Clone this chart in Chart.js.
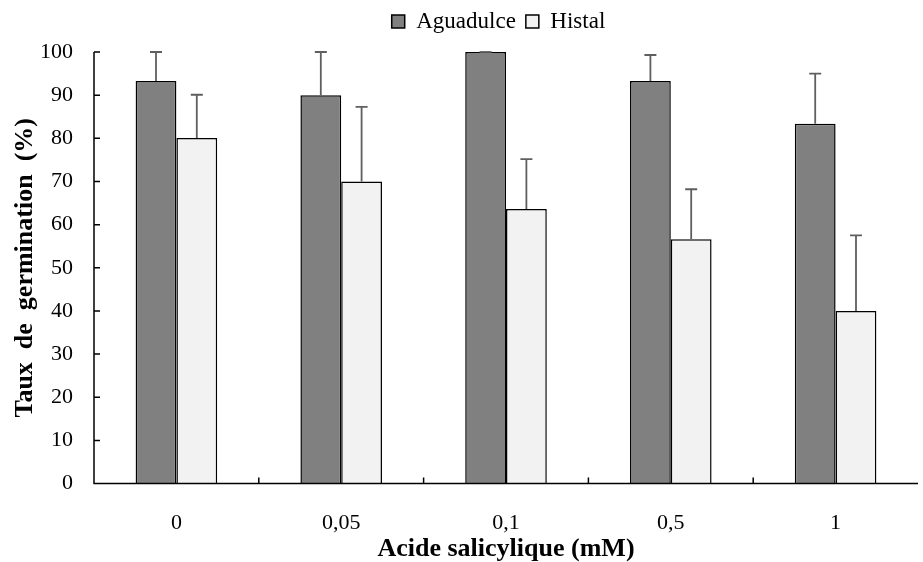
<!DOCTYPE html>
<html>
<head>
<meta charset="utf-8">
<script src="https://cdn.jsdelivr.net/npm/chart.js@4.4.0/dist/chart.umd.min.js"></script>
<style>
  html, body { margin: 0; padding: 0; background: #fff; }
  #wrap { width: 923px; height: 562px; }
</style>
</head>
<body>
<div id="wrap"><canvas id="myChart" width="923" height="562"></canvas></div>
<script>
// categories and values
var doses = ['0', '0,05', '0,1', '0,5', '1'];
var aguadulce = [93.3, 90.0, 100.0, 93.3, 83.4];
var histal = [80.1, 70.0, 63.6, 56.6, 40.0];
// upper error bars (standard deviation)
var aguadulceErr = [6.7, 10.0, 0, 6.0, 11.6];
var histalErr = [10.0, 17.3, 11.6, 11.6, 17.5];
var yTicks = [0, 10, 20, 30, 40, 50, 60, 70, 80, 90, 100];

var serif = '"Liberation Serif", "Times New Roman", serif';

// error bars + inside tick marks
var extras = {
  id: 'extras',
  afterDatasetsDraw: function (chart) {
    var ctx = chart.ctx;
    var y = chart.scales.y;
    var errs = [aguadulceErr, histalErr];
    ctx.save();
    ctx.strokeStyle = '#5f5f5f';
    ctx.lineWidth = 1.8;
    for (var d = 0; d < 2; d++) {
      var meta = chart.getDatasetMeta(d);
      meta.data.forEach(function (bar, i) {
        var v = chart.data.datasets[d].data[i];
        var top = y.getPixelForValue(v + errs[d][i]);
        var base = y.getPixelForValue(v);
        ctx.beginPath();
        ctx.moveTo(bar.x, base);
        ctx.lineTo(bar.x, top);
        ctx.moveTo(bar.x - 6, top);
        ctx.lineTo(bar.x + 6, top);
        ctx.stroke();
      });
    }
    // axes
    var area = chart.chartArea;
    ctx.strokeStyle = '#000';
    ctx.lineWidth = 1.5;
    ctx.beginPath();
    ctx.moveTo(area.left, area.top);
    ctx.lineTo(area.left, area.bottom);
    ctx.lineTo(area.right, area.bottom);
    yTicks.forEach(function (t) {
      var py = y.getPixelForValue(t);
      ctx.moveTo(area.left, py);
      ctx.lineTo(area.left + 6, py);
    });
    var step = (area.right - area.left) / doses.length;
    for (var k = 1; k < doses.length; k++) {
      var px = area.left + step * k;
      ctx.moveTo(px, area.bottom);
      ctx.lineTo(px, area.bottom - 6);
    }
    ctx.stroke();
    ctx.restore();
  }
};

// push the plot down below the legend, and centre the legend over the plot
var legendGap = {
  id: 'legendGap',
  beforeInit: function (chart) {
    var fit = chart.legend.fit;
    chart.legend.fit = function () {
      fit.bind(chart.legend)();
      this.height += 9;
    };
  },
  afterLayout: function (chart) {
    chart.legend.left = 79;
  }
};

var ctx = document.getElementById('myChart').getContext('2d');
var myChart = new Chart(ctx, {
  type: 'bar',
  data: {
    labels: doses,
    datasets: [
      {
        label: 'Aguadulce',
        data: aguadulce,
        backgroundColor: '#808080',
        borderColor: '#000',
        borderWidth: 1.5,
        categoryPercentage: 0.495,
        barPercentage: 1.0
      },
      {
        label: 'Histal',
        data: histal,
        backgroundColor: '#f2f2f2',
        borderColor: '#000',
        borderWidth: 1.5,
        categoryPercentage: 0.495,
        barPercentage: 1.0
      }
    ]
  },
  options: {
    responsive: false,
    animation: false,
    layout: { padding: { top: 0, right: 5, left: 12, bottom: 0 } },
    plugins: {
      tooltip: { enabled: false },
      legend: {
        position: 'top',
        align: 'center',
        labels: {
          boxWidth: 13,
          boxHeight: 13,
          color: '#000',
          padding: 10,
          font: { family: serif, size: 23 }
        }
      }
    },
    scales: {
      x: {
        grid: { display: false, drawTicks: false },
        border: { display: false },
        ticks: {
          color: '#000',
          padding: 26,
          font: { family: serif, size: 22 }
        },
        title: {
          display: true,
          text: 'Acide salicylique (mM)',
          color: '#000',
          padding: { top: -26, bottom: 0 },
          font: { family: serif, size: 26, weight: 'bold', lineHeight: 1 }
        }
      },
      y: {
        min: 0,
        max: 100,
        afterBuildTicks: function (axis) {
          axis.ticks = yTicks.map(function (v) { return { value: v }; });
        },
        grid: { display: false, drawTicks: false },
        border: { display: false },
        ticks: {
          color: '#000',
          padding: 21,
          font: { family: serif, size: 22 }
        },
        title: {
          display: true,
          text: 'Taux  de  germination  (%)',
          color: '#000',
          padding: { top: 0, bottom: -19 },
          font: { family: serif, size: 26, weight: 'bold', lineHeight: 1 }
        }
      }
    }
  },
  plugins: [legendGap, extras]
});
</script>
</body>
</html>
